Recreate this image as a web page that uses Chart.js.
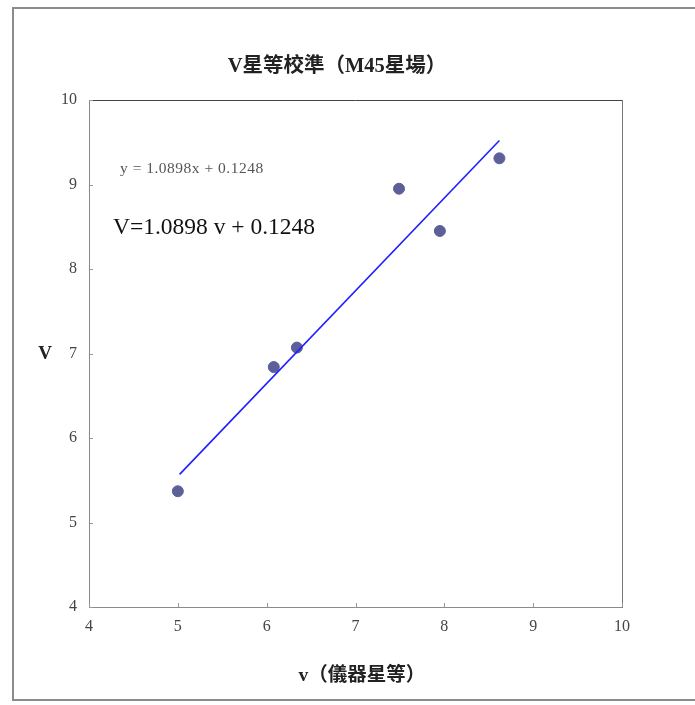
<!DOCTYPE html>
<html>
<head>
<meta charset="utf-8">
<script src="https://cdn.jsdelivr.net/npm/chart.js@4/dist/chart.umd.min.js"></script>
<style>
  html, body { margin: 0; padding: 0; background: #fff; overflow: hidden; }
  #wrap { position: relative; width: 695px; height: 705px; }
  #frame { position: absolute; left: 12px; top: 7px; width: 700px; height: 694px; border: 2px solid #8c8c8c; box-sizing: border-box; }
  canvas { position: absolute; left: 0; top: 0; }
  .txt { position: absolute; white-space: nowrap; font-family: "Liberation Serif", "Noto Sans CJK TC", serif; }
  #title { left: 337px; top: 63px; transform: translate(-50%, -50%); font-size: 20.5px; font-weight: bold; color: #222; }
  #xTitle { left: 362px; top: 672px; transform: translate(-50%, -50%); font-size: 19.5px; font-weight: bold; color: #222; }
  #yTitle { left: 45px; top: 353px; transform: translate(-50%, -50%); font-size: 19px; font-weight: bold; color: #222; }
  #eq1 { left: 120px; top: 168px; transform: translateY(-50%); font-size: 15.5px; letter-spacing: 0.5px; color: #555; }
  #eq2 { left: 113px; top: 226px; transform: translateY(-50%); font-size: 23.5px; color: #111; }
</style>
</head>
<body>
<div id="wrap">
  <div id="frame"></div>
  <canvas id="calChart" width="695" height="705"></canvas>
  <div class="txt" id="title">V星等校準（M45星場）</div>
  <div class="txt" id="xTitle">v（儀器星等）</div>
  <div class="txt" id="yTitle">V</div>
  <div class="txt" id="eq1">y = 1.0898x + 0.1248</div>
  <div class="txt" id="eq2">V=1.0898 v + 0.1248</div>
</div>
<script>
// --------------------
// Data
// --------------------
const instrumentMag = [5.00, 6.08, 6.34, 7.49, 7.95, 8.62];
const catalogMag = [5.37, 6.84, 7.07, 8.95, 8.45, 9.31];
const fitX = [5.02, 8.62];
const fitY = [5.57, 9.52];
const axisTicks = [4, 5, 6, 7, 8, 9, 10];

// --------------------
// Plot frame + inward tick marks
// --------------------
const framePlugin = {
  id: 'framePlugin',
  afterDraw(chart) {
    const { ctx, chartArea: a, scales } = chart;
    ctx.save();
    ctx.lineWidth = 1;
    ctx.strokeStyle = '#8a8a8a';
    ctx.beginPath();
    ctx.moveTo(a.left + 0.5, a.top);
    ctx.lineTo(a.left + 0.5, a.bottom + 0.5);
    ctx.lineTo(a.right, a.bottom + 0.5);
    ctx.stroke();
    ctx.strokeStyle = '#444';
    ctx.beginPath();
    ctx.moveTo(a.left, a.top + 0.5);
    ctx.lineTo(a.right, a.top + 0.5);
    ctx.stroke();
    ctx.strokeStyle = '#777';
    ctx.beginPath();
    ctx.moveTo(a.right + 0.5, a.top);
    ctx.lineTo(a.right + 0.5, a.bottom + 1);
    ctx.stroke();
    ctx.strokeStyle = '#999';
    ctx.beginPath();
    axisTicks.forEach(t => {
      const x = Math.round(scales.x.getPixelForValue(t)) + 0.5;
      ctx.moveTo(x, a.bottom);
      ctx.lineTo(x, a.bottom - 4);
      const y = Math.round(scales.y.getPixelForValue(t)) + 0.5;
      ctx.moveTo(a.left, y);
      ctx.lineTo(a.left + 4, y);
    });
    ctx.stroke();
    ctx.restore();
  }
};

const tickFont = { family: '"Liberation Serif", serif', size: 16 };

new Chart(document.getElementById('calChart'), {
  type: 'scatter',
  data: {
    datasets: [
      {
        label: 'fit',
        type: 'line',
        data: fitX.map((x, i) => ({ x, y: fitY[i] })),
        borderColor: '#1f1fff',
        borderWidth: 1.6,
        pointRadius: 0,
        fill: false
      },
      {
        label: 'stars',
        data: instrumentMag.map((x, i) => ({ x, y: catalogMag[i] })),
        backgroundColor: '#5d5f99',
        borderColor: '#5d5f99',
        pointRadius: 5.5,
        pointHoverRadius: 5.5
      }
    ]
  },
  options: {
    responsive: false,
    animation: false,
    events: [],
    layout: { padding: { left: 59, right: 73, top: 100, bottom: 58 } },
    plugins: { legend: { display: false }, tooltip: { enabled: false } },
    scales: {
      x: {
        type: 'linear',
        min: 4, max: 10,
        afterFit: s => { s.height = 40; },
        afterBuildTicks: s => { s.ticks = axisTicks.map(v => ({ value: v })); },
        grid: { display: false, drawTicks: false },
        border: { display: false },
        ticks: { color: '#444', font: tickFont, padding: 10, maxRotation: 0 }
      },
      y: {
        type: 'linear',
        min: 4, max: 10,
        afterFit: s => { s.width = 30; },
        afterBuildTicks: s => { s.ticks = axisTicks.map(v => ({ value: v })); },
        grid: { display: false, drawTicks: false },
        border: { display: false },
        ticks: { color: '#444', font: tickFont, padding: 12 }
      }
    }
  },
  plugins: [framePlugin]
});
</script>
</body>
</html>
